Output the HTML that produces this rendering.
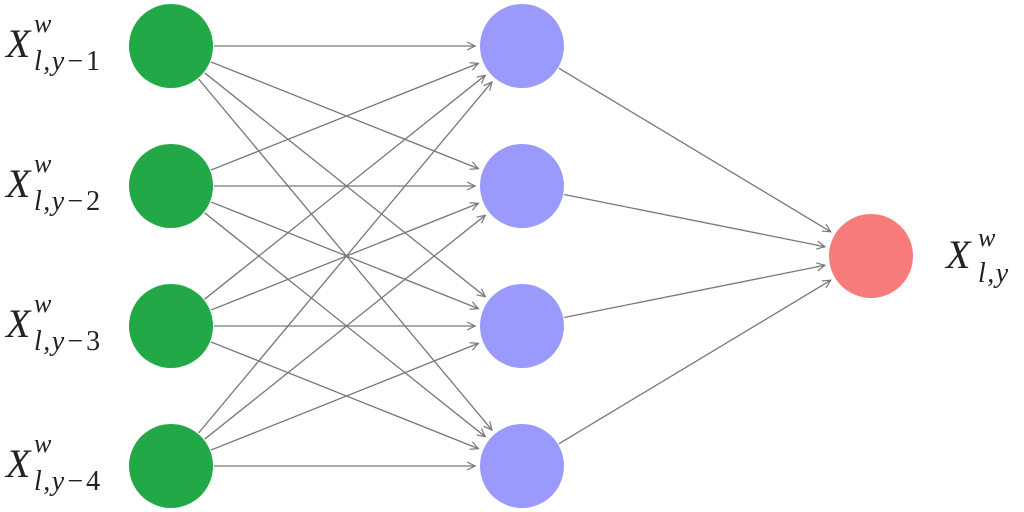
<!DOCTYPE html>
<html><head><meta charset="utf-8">
<style>
html,body{margin:0;padding:0;background:#fff;width:1024px;height:512px;overflow:hidden}
.t{font-family:"Liberation Serif","DejaVu Serif",serif;font-style:italic;fill:#222}
.u{font-style:normal}
.s{letter-spacing:1.5px}
</style></head>
<body>
<svg id="s" width="1024" height="512" viewBox="0 0 1024 512" xmlns="http://www.w3.org/2000/svg">
<defs>
<marker id="a" markerWidth="12" markerHeight="12" refX="9" refY="5" orient="auto" markerUnits="userSpaceOnUse">
<path d="M1,1 L9,5 L1,9" fill="none" stroke="#777" stroke-width="1.2"/>
</marker>
</defs>
<g id="lines" stroke="#777" stroke-width="1.3" fill="none"></g>
<g id="nodes"></g>
<g class="t" font-size="40" font-family="Liberation Serif, serif">
<text x="6" y="57">X</text><text x="34" y="32" font-size="26">w</text><text class="s" x="34" y="70" font-size="28">l,y−<tspan class="u">1</tspan></text>
<text x="6" y="197">X</text><text x="34" y="172" font-size="26">w</text><text class="s" x="34" y="210" font-size="28">l,y−<tspan class="u">2</tspan></text>
<text x="6" y="337">X</text><text x="34" y="312" font-size="26">w</text><text class="s" x="34" y="350" font-size="28">l,y−<tspan class="u">3</tspan></text>
<text x="6" y="477">X</text><text x="34" y="452" font-size="26">w</text><text class="s" x="34" y="490" font-size="28">l,y−<tspan class="u">4</tspan></text>
<text x="946" y="268">X</text><text x="978" y="246" font-size="26">w</text><text class="s" x="978" y="282" font-size="28">l,y</text>
</g>
</svg>
<script>
var ys=[46,186,326,466],gx=171,bx=522,rx=871,ry=256,R=42;
var L=document.getElementById('lines'),N=document.getElementById('nodes'),ns="http://www.w3.org/2000/svg";
function line(x1,y1,x2,y2){var dx=x2-x1,dy=y2-y1,d=Math.sqrt(dx*dx+dy*dy),ux=dx/d,uy=dy/d;
var l=document.createElementNS(ns,'line');l.setAttribute('x1',x1+ux*(R+1));l.setAttribute('y1',y1+uy*(R+1));
l.setAttribute('x2',x2-ux*(R+5));l.setAttribute('y2',y2-uy*(R+5));l.setAttribute('marker-end','url(#a)');L.appendChild(l);}
function circ(x,y,c){var e=document.createElementNS(ns,'circle');e.setAttribute('cx',x);e.setAttribute('cy',y);e.setAttribute('r',R);e.setAttribute('fill',c);N.appendChild(e);}
ys.forEach(function(a){ys.forEach(function(b){line(gx,a,bx,b);});});
ys.forEach(function(b){line(bx,b,rx,ry);});
ys.forEach(function(a){circ(gx,a,'#22a846');circ(bx,a,'#9a9afc');});
circ(rx,ry,'#f77b7b');
</script>
</body></html>
